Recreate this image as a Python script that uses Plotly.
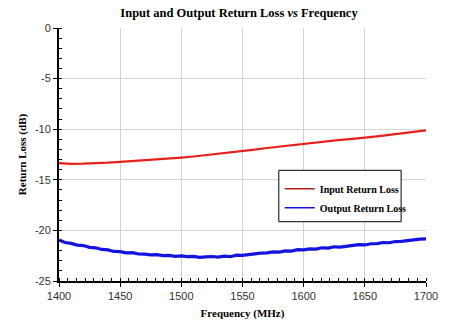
import plotly.graph_objects as go

freq_in = [1400, 1410, 1420, 1430, 1440, 1450, 1460, 1470, 1480, 1490, 1500,
           1510, 1520, 1530, 1540, 1550, 1560, 1570, 1580, 1590, 1600,
           1610, 1620, 1630, 1640, 1650, 1660, 1670, 1680, 1690, 1700]
input_rl = [-13.35, -13.42, -13.40, -13.37, -13.30, -13.22, -13.15, -13.06, -12.97, -12.90, -12.80,
            -12.70, -12.57, -12.46, -12.31, -12.16, -12.02, -11.86, -11.72, -11.57, -11.42,
            -11.31, -11.20, -11.06, -10.96, -10.86, -10.71, -10.56, -10.42, -10.27, -10.12]

freq_out = [1400, 1405, 1410, 1415, 1420, 1425, 1430, 1435, 1440, 1445, 1450,
            1455, 1460, 1465, 1470, 1475, 1480, 1485, 1490, 1495, 1500,
            1505, 1510, 1515, 1520, 1525, 1530, 1535, 1540, 1545, 1550,
            1555, 1560, 1565, 1570, 1575, 1580, 1585, 1590, 1595, 1600,
            1605, 1610, 1615, 1620, 1625, 1630, 1635, 1640, 1645, 1650,
            1655, 1660, 1665, 1670, 1675, 1680, 1685, 1690, 1695, 1700]
output_rl = [-20.95, -21.20, -21.28, -21.45, -21.50, -21.68, -21.72, -21.88, -21.93, -22.08, -22.10,
             -22.22, -22.20, -22.33, -22.35, -22.42, -22.40, -22.50, -22.46, -22.56, -22.52,
             -22.60, -22.56, -22.66, -22.62, -22.58, -22.64, -22.55, -22.60, -22.45, -22.47,
             -22.38, -22.36, -22.24, -22.22, -22.12, -22.14, -22.02, -22.04, -21.90, -21.93,
             -21.82, -21.85, -21.72, -21.75, -21.62, -21.66, -21.55, -21.52, -21.40, -21.44,
             -21.32, -21.30, -21.20, -21.22, -21.10, -21.08, -20.98, -20.96, -20.86, -20.84]

series_names = ["Input Return Loss", "Output Return Loss"]
x_ticks = [1400, 1450, 1500, 1550, 1600, 1650, 1700]
y_ticks = [0, -5, -10, -15, -20, -25]

serif = "Liberation Serif"
sans = "Liberation Sans, Arial, sans-serif"

fig = go.Figure()
fig.add_trace(go.Scatter(x=freq_in, y=input_rl, mode="lines", name=series_names[0],
                         showlegend=False, line=dict(color="#e8201c", width=2.2)))
fig.add_trace(go.Scatter(x=freq_out, y=output_rl, mode="lines", name=series_names[1],
                         showlegend=False, line=dict(color="#1414e0", width=3.2)))
# legend entries with thin sample lines
fig.add_trace(go.Scatter(x=[None], y=[None], mode="lines", name="<b>" + series_names[0] + "</b>",
                         line=dict(color="#b3201c", width=1.5)))
fig.add_trace(go.Scatter(x=[None], y=[None], mode="lines", name="<b>" + series_names[1] + "</b>",
                         line=dict(color="#1414e0", width=1.5)))

fig.update_layout(
    width=450, height=330,
    margin=dict(l=59, r=22, t=28, b=46),
    paper_bgcolor="white", plot_bgcolor="white",
    title=dict(text="<b>Input and Output Return Loss <i>vs</i> Frequency</b>",
               x=239/450, xanchor="center", y=1-13/330, yanchor="middle",
               font=dict(family=serif, size=12.5, color="#000")),
    showlegend=True,
    legend=dict(x=(281-59)/369, y=(284-176)/256, xanchor="left", yanchor="top",
                bgcolor="rgba(0,0,0,0)", borderwidth=0,
                font=dict(family=serif, size=10, color="#000"),
                itemwidth=30, tracegroupgap=0),
    shapes=[dict(type="rect", xref="paper", yref="paper",
                 x0=(280-59)/369, x1=(403-59)/369, y0=(284-224)/256, y1=(284-172)/256,
                 line=dict(color="black", width=1), fillcolor="white", layer="above")],
)
fig.update_xaxes(
    range=[1400, 1700], tickvals=x_ticks, ticktext=[str(v) for v in x_ticks],
    showgrid=True, gridcolor="#d4d4d4", gridwidth=1,
    showline=True, linecolor="black", linewidth=2,
    ticks="outside", ticklen=4, tickcolor="black",
    minor=dict(dtick=50/7, ticks="inside", ticklen=3, tickcolor="black", showgrid=False),
    tickfont=dict(family=sans, size=11, color="#333"),
    title=dict(text="<b>Frequency (MHz)</b>", font=dict(family=serif, size=11, color="#000"), standoff=8),
    zeroline=False,
)
fig.update_yaxes(
    range=[-25, 0], tickvals=y_ticks, ticktext=[str(v) for v in y_ticks],
    showgrid=True, gridcolor="#d4d4d4", gridwidth=1,
    showline=True, linecolor="black", linewidth=2,
    ticks="outside", ticklen=4, tickcolor="black",
    minor=dict(dtick=1, ticks="inside", ticklen=3, tickcolor="black", showgrid=False),
    tickfont=dict(family=sans, size=11, color="#333"),
    title=dict(text="<b>Return Loss (dB)</b>", font=dict(family=serif, size=11, color="#000"), standoff=6),
    zeroline=False,
)

fig.write_html("out.html")
